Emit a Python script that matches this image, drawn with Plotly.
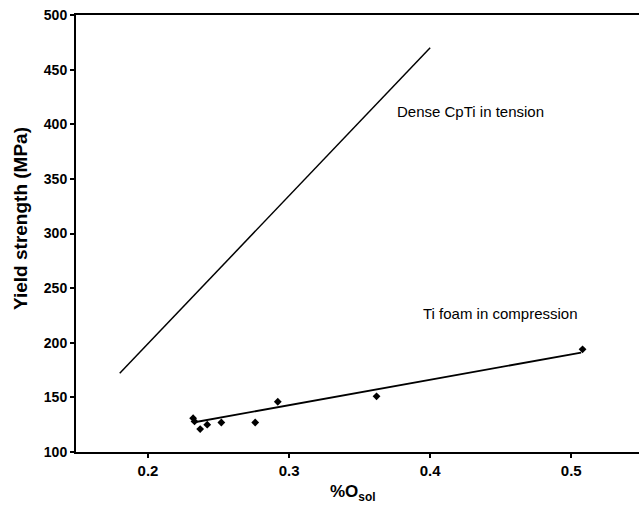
import plotly.graph_objects as go

# Data
dense_x = [0.18, 0.40]
dense_y = [172, 470]

foam_fit_x = [0.232, 0.507]
foam_fit_y = [127, 191]

foam_x = [0.232, 0.233, 0.237, 0.242, 0.252, 0.276, 0.292, 0.362, 0.508]
foam_y = [131, 128, 121, 125, 127, 127, 146, 151, 194]

x_ticks = [0.2, 0.3, 0.4, 0.5]
x_tick_labels = ["0.2", "0.3", "0.4", "0.5"]
y_ticks = [100, 150, 200, 250, 300, 350, 400, 450, 500]
y_tick_labels = ["100", "150", "200", "250", "300", "350", "400", "450", "500"]

label_dense = "Dense CpTi in tension"
label_foam = "Ti foam in compression"

FONT = "Liberation Sans, Arial, sans-serif"

fig = go.Figure()
fig.add_trace(go.Scatter(x=dense_x, y=dense_y, mode="lines",
                         line=dict(color="black", width=1.5), showlegend=False))
fig.add_trace(go.Scatter(x=foam_fit_x, y=foam_fit_y, mode="lines",
                         line=dict(color="black", width=1.8), showlegend=False))
fig.add_trace(go.Scatter(x=foam_x, y=foam_y, mode="markers",
                         marker=dict(color="black", size=6, symbol="diamond"),
                         showlegend=False))

fig.add_annotation(x=0.4285, y=412, text=label_dense, showarrow=False,
                   xanchor="center", yanchor="middle",
                   font=dict(family=FONT, size=15, color="black"))
fig.add_annotation(x=0.450, y=227, text=label_foam, showarrow=False,
                   xanchor="center", yanchor="middle",
                   font=dict(family=FONT, size=15, color="black"))

fig.add_annotation(xref="paper", yref="paper", x=-0.0977, y=0.5355,
                   text="<b>Yield strength (MPa)</b>", textangle=-90,
                   showarrow=False, xanchor="center", yanchor="middle",
                   font=dict(family=FONT, size=19, color="black"))
fig.add_annotation(xref="paper", yref="paper", x=0.492, y=-0.094,
                   text="<b>%O<sub>sol</sub></b>",
                   showarrow=False, xanchor="center", yanchor="middle",
                   font=dict(family=FONT, size=17, color="black"))

fig.update_layout(
    width=639, height=508,
    margin=dict(l=76, r=0, t=15, b=56),
    paper_bgcolor="white", plot_bgcolor="white",
    font=dict(family=FONT, color="black"),
    xaxis=dict(range=[0.149, 0.548], tickvals=x_ticks,
               ticktext=["<b>%s</b>" % t for t in x_tick_labels],
               showgrid=False, zeroline=False, showline=True, linecolor="black",
               linewidth=2, mirror=True, ticks="outside", ticklen=4, tickwidth=1.5,
               tickcolor="black",
               tickfont=dict(family=FONT, size=15, color="black")),
    yaxis=dict(range=[100, 500], tickvals=y_ticks,
               ticktext=["<b>%s</b>" % t for t in y_tick_labels],
               showgrid=False, zeroline=False, showline=True, linecolor="black",
               linewidth=2, ticks="outside", ticklen=4, tickwidth=1.5,
               tickcolor="black",
               tickfont=dict(family=FONT, size=14, color="black")),
)

fig.write_html("out.html")
